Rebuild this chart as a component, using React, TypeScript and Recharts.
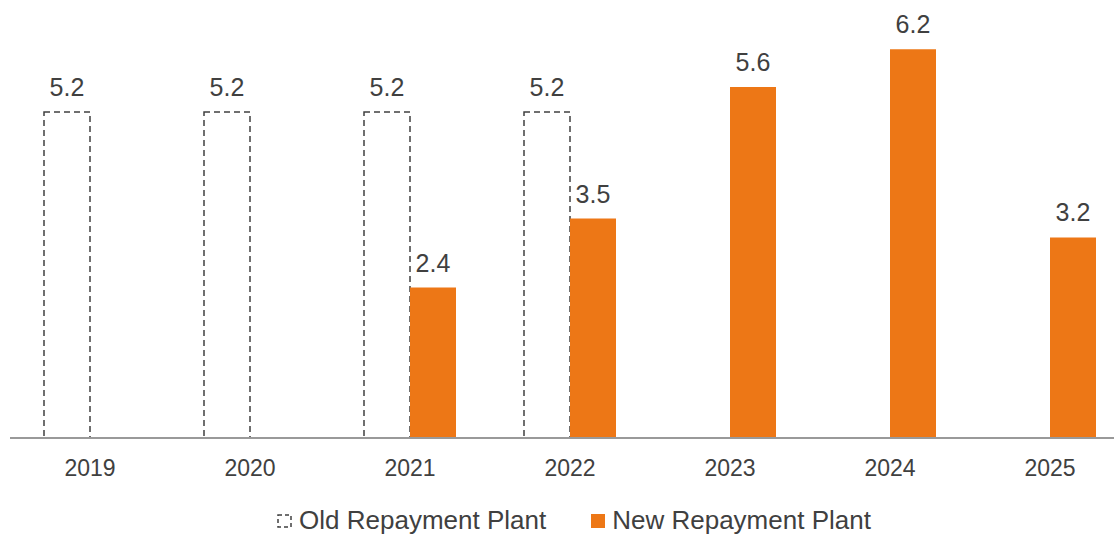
import { BarChart, Bar, XAxis, YAxis, LabelList, Legend } from "recharts"

const years = ["2019", "2020", "2021", "2022", "2023", "2024", "2025"]
const oldPlan = [5.2, 5.2, 5.2, 5.2, null, null, null]
const newPlan = [null, null, 2.4, 3.5, 5.6, 6.2, 3.2]

const data = years.map((year, i) => ({ year, oldPlan: oldPlan[i], newPlan: newPlan[i] }))

const ORANGE = "#ED7716"
const TEXT = "#404040"
const FONT = "'Liberation Sans', Arial, sans-serif"

function ChartLegend() {
  return (
    <div
      style={{
        display: "flex",
        justifyContent: "center",
        alignItems: "center",
        fontFamily: FONT,
        fontSize: 26,
        color: TEXT,
        paddingTop: 17,
        paddingLeft: 8,
      }}
    >
      <span style={{ display: "flex", alignItems: "center", marginRight: 45 }}>
        <svg width={15} height={14} style={{ marginRight: 7 }}>
          <rect x={1} y={1} width={13} height={12} fill="none" stroke={TEXT} strokeWidth={1.5} strokeDasharray="4 3" />
        </svg>
        Old Repayment Plant
      </span>
      <span style={{ display: "flex", alignItems: "center" }}>
        <svg width={14} height={14} style={{ marginRight: 7 }}>
          <rect x={0} y={0} width={14} height={14} fill={ORANGE} />
        </svg>
        New Repayment Plant
      </span>
    </div>
  )
}

export default function App() {
  return (
    <div style={{ position: "absolute", top: 0, left: 0, width: 1114, height: 534, overflow: "hidden", background: "#fff" }}>
      <BarChart
        width={1140}
        height={534}
        data={data}
        margin={{ top: 30.5, right: 10, left: 10, bottom: 0 }}
        barGap={0}
        barSize={46}
      >
        <XAxis
          dataKey="year"
          axisLine={{ stroke: "#999999", strokeWidth: 2 }}
          tickLine={false}
          tick={{ fill: TEXT, fontSize: 23, fontFamily: FONT }}
          tickMargin={16}
          height={50}
        />
        <YAxis hide domain={[0, 6.5]} />
        <Legend verticalAlign="bottom" height={46} content={<ChartLegend />} />
        <Bar dataKey="oldPlan" fill="none" stroke={TEXT} strokeWidth={1.5} strokeDasharray="6 4" isAnimationActive={false}>
          <LabelList dataKey="oldPlan" position="top" offset={16} fill={TEXT} fontSize={25} fontFamily={FONT} />
        </Bar>
        <Bar dataKey="newPlan" fill={ORANGE} isAnimationActive={false}>
          <LabelList dataKey="newPlan" position="top" offset={16} fill={TEXT} fontSize={25} fontFamily={FONT} />
        </Bar>
      </BarChart>
    </div>
  )
}
